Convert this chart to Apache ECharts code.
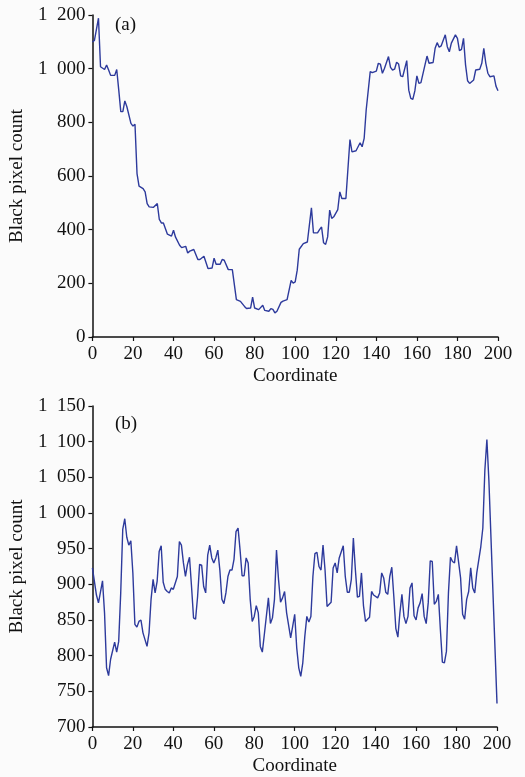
<!DOCTYPE html>
<html>
<head>
<meta charset="utf-8">
<script src="https://cdn.jsdelivr.net/npm/echarts@6/dist/echarts.min.js"></script>
<style>
  html, body { margin: 0; padding: 0; background: #fbfbfb; }
  #chart { width: 525px; height: 777px; }
</style>
</head>
<body>
<div id="chart"></div>
<script>
// (a) black pixel count along the coordinate
const coordA = [0,1,3,4,6,7,8,9,11,12,13,14,15,16,17,19,20,21,22,23,25,26,27,28,30,32,33,34,35,37,39,40,41,43,44,46,47,48,50,52,53,55,57,59,60,61,63,64,65,67,69,71,73,75,76,78,79,80,82,84,85,87,88,89,90,91,93,94,96,98,99,100,101,102,104,106,108,109,111,112,113,114,115,116,117,118,119,121,122,123,125,127,128,130,131,132,133,134,135,137,138,140,141,142,143,144,146,147,148,149,150,151,152,153,155,156,157,158,159,160,161,162,164,165,166,168,169,170,171,172,174,175,176,177,179,180,181,182,183,184,185,186,188,189,191,192,193,194,195,196,198,199,200];
const countA = [1100,1105,1188,1007,997,1014,995,975,975,997,920,840,840,880,858,796,786,793,609,562,553,541,497,485,483,497,438,425,425,383,376,398,372,342,333,338,313,320,326,289,289,301,255,257,294,271,271,289,286,251,251,139,133,114,106,108,149,108,102,118,99,96,106,103,90,96,129,134,139,211,201,205,249,327,348,354,481,388,388,400,410,351,345,373,473,442,448,475,541,516,516,736,690,694,709,724,709,740,846,989,985,991,1020,1017,983,1001,1045,1005,995,998,1024,1017,973,970,1030,920,889,886,917,973,945,948,1014,1047,1020,1023,1076,1097,1080,1085,1126,1082,1063,1095,1126,1113,1067,1072,1113,1014,955,945,958,995,998,1020,1076,1020,983,970,973,935,918];

// (b)
const coordB = [0,2,3,5,6,7,8,9,11,12,13,14,15,16,17,18,19,20,21,22,23,24,25,27,28,29,30,31,32,33,34,35,36,37,38,39,40,42,43,44,45,46,47,48,49,50,51,52,53,54,55,56,57,58,59,60,61,62,63,64,65,66,67,68,69,70,71,72,73,74,75,76,77,78,79,80,81,82,83,84,85,87,88,89,90,91,92,93,94,95,96,98,99,100,101,102,103,104,105,106,107,108,109,110,111,112,113,114,115,116,118,119,120,121,122,124,125,126,127,128,129,130,131,132,133,134,135,136,137,138,139,141,142,143,144,145,146,147,148,149,150,151,152,153,154,155,156,157,158,159,160,161,162,163,164,165,166,167,168,169,170,171,172,173,174,175,176,177,178,179,180,182,183,184,185,186,187,188,189,190,192,193,194,195,196,200];
const countB = [923,885,874,905,860,783,772,795,819,805,820,888,977,992,966,955,961,916,844,840,848,850,832,813,832,879,907,888,904,946,954,903,893,890,888,895,893,911,960,955,930,911,928,938,897,853,851,883,928,927,897,888,941,955,937,930,937,948,920,879,873,888,911,920,920,935,974,979,948,912,912,937,930,879,848,855,870,860,813,805,830,881,845,853,879,948,907,875,881,890,860,825,841,858,811,783,771,790,827,855,847,855,911,943,945,925,920,955,920,869,875,923,930,916,937,954,911,889,889,907,965,920,882,883,916,870,848,851,854,890,885,881,888,916,909,889,886,911,924,883,838,826,860,886,855,845,855,895,902,856,850,867,874,887,855,845,874,933,932,872,876,886,837,791,790,806,888,938,932,930,954,909,858,851,879,890,923,895,888,916,953,979,1060,1103,1045,733];

const xTicks = { min: 0, max: 200, interval: 20 };
const yTicksA = { min: 0, max: 1200, interval: 200 };
const yTicksB = { min: 700, max: 1150, interval: 50 };

const FONT = "Liberation Serif";
const LINE = "#2d3a9c";

const zip = (xs, ys) => xs.map((x, i) => [x, ys[i]]);
// thousands split by a gap, as in the printed figure ("1 200")
const spaced = v => v >= 1000 ? String(v).replace(/(\d)(\d{3})$/, "$1  $2") : String(v);

function xAxis(grid) {
  return {
    type: "value", gridIndex: grid, ...xTicks,
    name: "Coordinate", nameLocation: "middle", nameGap: 30,
    nameTextStyle: { fontFamily: FONT, fontSize: 19, color: "#111" },
    axisLine: { lineStyle: { color: "#111", width: 1.5 } },
    axisTick: { length: 4, lineStyle: { color: "#111", width: 1.2 } },
    axisLabel: { fontFamily: FONT, fontSize: 19, color: "#111", margin: 8 },
    splitLine: { show: false },
  };
}

function yAxis(grid, ticks) {
  return {
    type: "value", gridIndex: grid, ...ticks,
    name: "Black pixel count", nameLocation: "middle", nameGap: 57,
    nameTextStyle: { fontFamily: FONT, fontSize: 19, color: "#111" },
    axisLine: { show: true, lineStyle: { color: "#111", width: 1.5 } },
    axisTick: { show: true, length: 4, lineStyle: { color: "#111", width: 1.2 } },
    axisLabel: { fontFamily: FONT, fontSize: 19, color: "#111", margin: 7, formatter: spaced },
    splitLine: { show: false },
  };
}

function lineSeries(idx, data) {
  return {
    type: "line", xAxisIndex: idx, yAxisIndex: idx, data,
    showSymbol: false, smooth: false, animation: false,
    lineStyle: { color: LINE, width: 1.4 },
  };
}

const chart = echarts.init(document.getElementById("chart"));
chart.setOption({
  backgroundColor: "#fbfbfb",
  grid: [
    { left: 90, right: 27, top: 15, bottom: 440 },
    { left: 88, right: 28, top: 406, bottom: 49 },
  ],
  xAxis: [xAxis(0), xAxis(1)],
  yAxis: [yAxis(0, yTicksA), yAxis(1, yTicksB)],
  graphic: [
    { type: "text", left: 115, top: 16, style: { text: "(a)", font: `19px '${FONT}'`, fill: "#111" } },
    { type: "text", left: 115, top: 415, style: { text: "(b)", font: `19px '${FONT}'`, fill: "#111" } },
  ],
  series: [lineSeries(0, zip(coordA, countA)), lineSeries(1, zip(coordB, countB))],
});
</script>
</body>
</html>
